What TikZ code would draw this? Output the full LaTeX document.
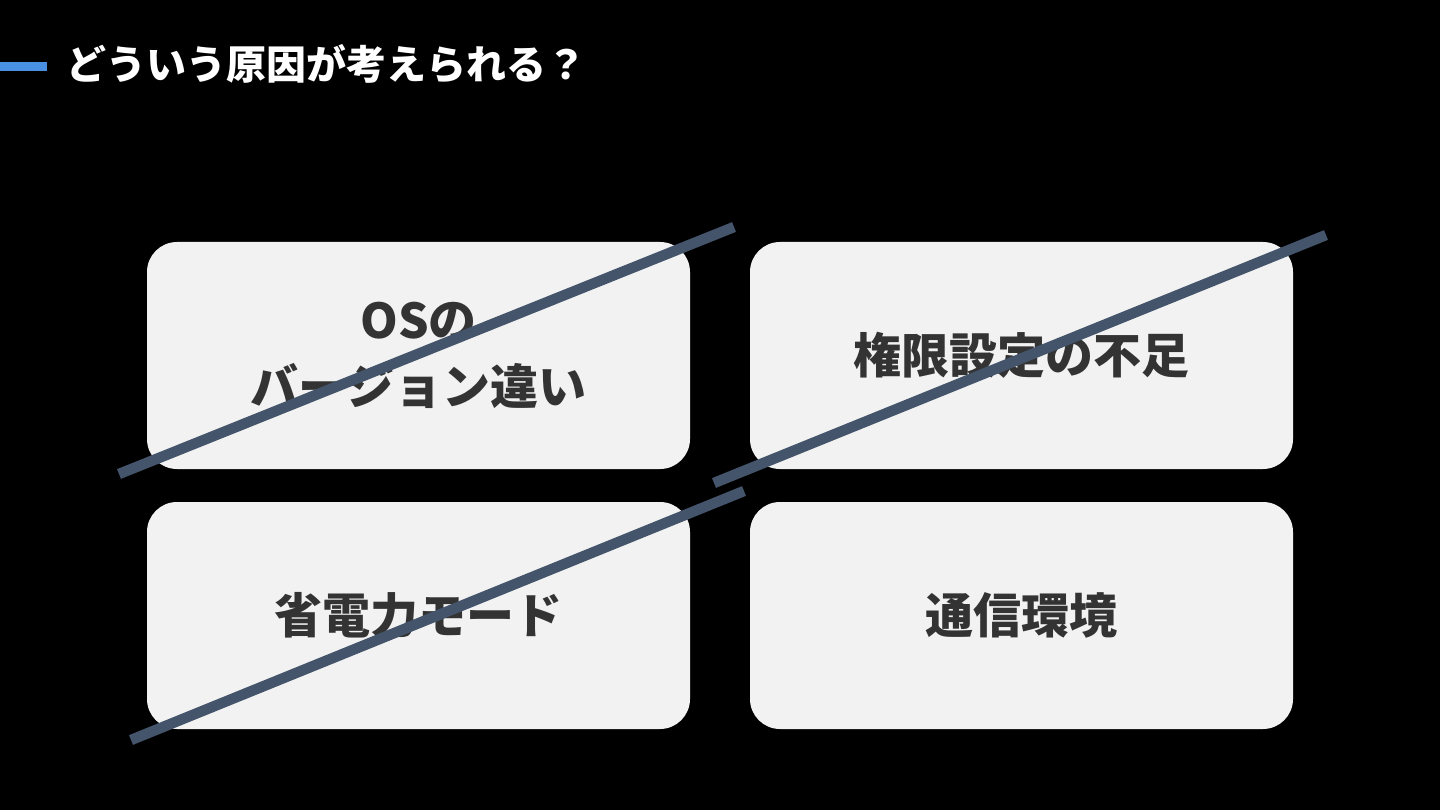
\documentclass[tikz,border=0pt]{standalone}
\usepackage{fontspec}
\setmainfont{Noto Sans CJK JP}
\usetikzlibrary{positioning}
\definecolor{boxgray}{HTML}{F2F2F2}
\definecolor{inkgray}{HTML}{333333}
\definecolor{slate}{HTML}{44546A}
\definecolor{accent}{HTML}{4A90E2}

\begin{document}
\begin{tikzpicture}[
  x=1pt,y=-1pt,
  cause/.style={fill=boxgray, rounded corners=30pt, minimum width=543pt, minimum height=227pt, align=center, text=inkgray, font=\fontsize{48}{66}\selectfont\bfseries, inner sep=0pt},
  strike/.style={draw=slate, line width=10.5pt}
]
\fill[black] (0,0) rectangle (1440,810);
\useasboundingbox (0,0) rectangle (1440,810);
\node[fill=accent, minimum width=47pt, minimum height=9pt, inner sep=0pt] (bar) at (23.5,67) {};
\node[anchor=west, text=white, font=\fontsize{40}{48}\selectfont\bfseries, inner sep=0pt] (title) at (66,64) {どういう原因が考えられる？};
\node[cause] (os) at (418.5,355.5) {OSの\\バージョン違い};
\node[cause] (perm) at (1021.5,355.5) {権限設定の不足};
\node[cause] (power) at (418.5,615.5) {省電力モード};
\node[cause] (net) at (1021.5,615.5) {通信環境};
\coordinate (s1a) at (119,474); \coordinate (s1b) at (734,227);
\coordinate (s2a) at (714,483); \coordinate (s2b) at (1326,235);
\coordinate (s3a) at (131,740); \coordinate (s3b) at (744,491);
\draw[strike] (s1a) -- (s1b); \draw[strike] (s2a) -- (s2b); \draw[strike] (s3a) -- (s3b);
\end{tikzpicture}
\end{document}
